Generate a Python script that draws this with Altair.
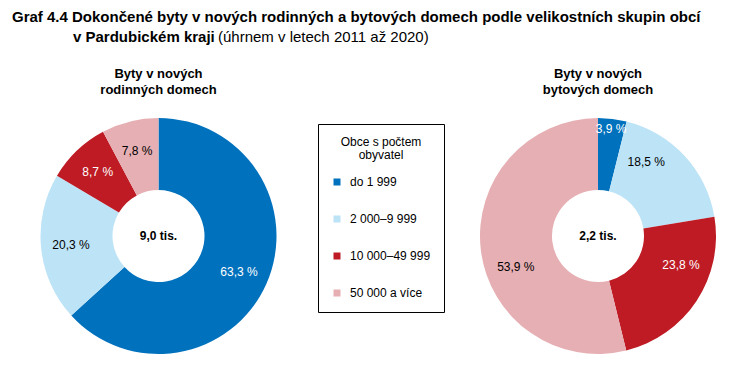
import altair as alt
import pandas as pd

categories = ["do 1 999", "2 000–9 999", "10 000–49 999", "50 000 a více"]
colors = ["#0071BD", "#BDE3F6", "#BE1B24", "#E6AFB3"]
rodinne_values = [63.3, 20.3, 8.7, 7.8]
bytove_values = [3.9, 18.5, 23.8, 53.9]
rodinne_total = "9,0 tis."
bytove_total = "2,2 tis."
title_line1 = "Graf 4.4 Dokončené byty v nových rodinných a bytových domech podle velikostních skupin obcí"
title_line2_bold = "v Pardubickém kraji"
title_line2_normal = "(úhrnem v letech 2011 až 2020)"
panel_titles = [["Byty v nových", "rodinných domech"], ["Byty v nových", "bytových domech"]]
legend_title = ["Obce s počtem", "obyvatel"]

FONT = "Liberation Sans"


def make_df(values):
    return pd.DataFrame({
        "cat": categories,
        "value": values,
        "idx": list(range(len(categories))),
        "label": [f"{v:.1f}".replace(".", ",") + " %" for v in values],
    })


color_scale = alt.Scale(domain=categories, range=colors)


def donut(values, total, title, width):
    df = make_df(values)
    base = alt.Chart(df).encode(
        theta=alt.Theta("value:Q", stack=True),
        order=alt.Order("idx:Q"),
    )
    arcs = base.mark_arc(innerRadius=46, outerRadius=118).encode(
        color=alt.Color("cat:N", scale=color_scale, sort=categories,
                        legend=alt.Legend(title=legend_title))
    )
    labels = base.mark_text(font=FONT, fontSize=12).transform_calculate(
        r="datum.value < 5 ? 108 : 88"
    ).encode(
        radius=alt.Radius("r:Q", scale=None),
        text="label:N",
        color=alt.condition(
            alt.FieldOneOfPredicate(field="cat", oneOf=[categories[0], categories[2]]),
            alt.value("white"), alt.value("black")),
    )
    center = alt.Chart(pd.DataFrame({"t": [total]})).mark_text(
        font=FONT, fontSize=12, fontWeight="bold", color="black"
    ).encode(text="t:N")
    return alt.layer(arcs, labels, center).properties(
        width=width, height=256,
        title=alt.TitleParams(title, font=FONT, fontSize=13, fontWeight="bold",
                              anchor="middle", offset=11, lineHeight=16, color="black"),
    )


header_df = pd.DataFrame({"a": [title_line1], "b": [title_line2_bold], "c": [title_line2_normal]})
h1 = alt.Chart(header_df).mark_text(font=FONT, fontSize=15, fontWeight="bold", align="left",
                                    baseline="alphabetic", color="black").encode(
    text="a:N", x=alt.value(4), y=alt.value(14))
h2 = alt.Chart(header_df).mark_text(font=FONT, fontSize=15, fontWeight="bold", align="left",
                                    baseline="alphabetic", color="black").encode(
    text="b:N", x=alt.value(65), y=alt.value(34))
h3 = alt.Chart(header_df).mark_text(font=FONT, fontSize=15, align="left",
                                    baseline="alphabetic", color="black").encode(
    text="c:N", x=alt.value(210), y=alt.value(34))
header = alt.layer(h1, h2, h3).properties(width=710, height=60)

row = alt.hconcat(
    donut(rodinne_values, rodinne_total, panel_titles[0], 301),
    donut(bytove_values, bytove_total, panel_titles[1], 240),
    spacing=169,
)

chart = alt.vconcat(header, row, spacing=0).properties(padding=0).configure_view(
    stroke=None
).configure_legend(
    orient="none", legendX=310, legendY=116,
    strokeColor="black", fillColor="white", padding=13,
    titleFont=FONT, titleFontSize=12, titleFontWeight="normal", titleColor="black",
    titleAlign="center", titleAnchor="middle", titlePadding=14, titleLineHeight=13,
    labelFont=FONT, labelFontSize=12, labelColor="black",
    symbolType="square", symbolSize=49, symbolStrokeWidth=0, rowPadding=25,
    labelOffset=7,
)

chart.save("out.html", embed_options={"renderer": "svg", "actions": False})
